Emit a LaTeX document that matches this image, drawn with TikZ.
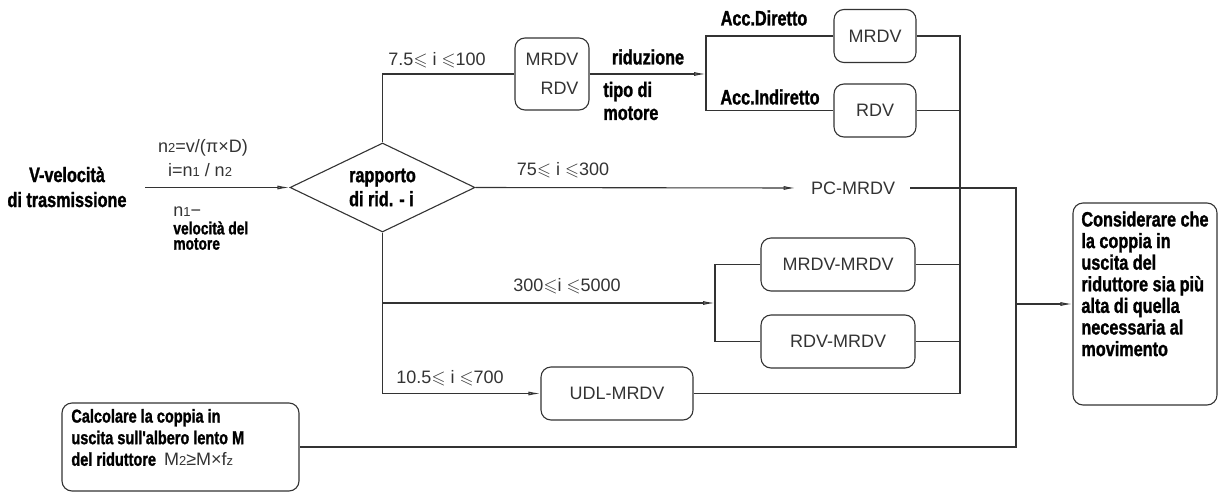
\documentclass[tikz,border=0pt]{standalone}
\usepackage{fontspec}
\usepackage{amssymb}
\setmainfont{Liberation Sans}
\newfontfamily\imp[FakeStretch=0.78,FakeBold=1.3]{Liberation Sans}
\usetikzlibrary{shapes.geometric,arrows.meta}
\newcommand\lsub[1]{{\fontsize{6.5pt}{6.5pt}\selectfont #1}}
\newcommand\myleq{$\leqslant$}
\begin{document}
\begin{tikzpicture}[x=0.5pt,y=-0.5pt,
 line/.style={draw=black!80, line width=0.55pt},
 arr/.style={line, -{Latex[length=6pt,width=2pt,fill=black!35]}},
 rbox/.style={draw=black!80, line width=0.55pt, rounded corners=5pt, inner sep=0pt, font=\fontsize{9pt}{10pt}\selectfont, text=black!80},
 bt/.style={font=\imp\bfseries\fontsize{10.4pt}{10.8pt}\selectfont, inner sep=0pt},
 rt/.style={font=\fontsize{9pt}{10pt}\selectfont, text=black!80, inner sep=0pt}]
\useasboundingbox (0,0) rectangle (1218,492);

% input
\node[bt, align=center, font=\imp\bfseries\fontsize{10.4pt}{12.5pt}\selectfont] (vel) at (67,187) {V-velocità\\di trasmissione};
\node[draw=black!80, line width=0.55pt, diamond, aspect=2, minimum width=92.5pt, minimum height=44.5pt, inner sep=0pt,
      align=left, font=\imp\bfseries\fontsize{10.4pt}{12pt}\selectfont] (dec) at (382.5,187.5) {rapporto\\di rid. - i};
\coordinate (in) at (145,187.5);
\draw[arr] (in) -- (dec.west);
\node[rt] (l1) at (203,148) {n\lsub{2}=v/(π×D)};
\node[rt] (l2) at (200,170) {i=n\lsub{1} / n\lsub{2}};
\node[rt, anchor=west] (l3) at (173,212) {n\lsub{1}−};
\node[bt, anchor=west, font=\imp\bfseries\fontsize{8.8pt}{9pt}\selectfont] (l4) at (173,228) {velocità del};
\node[bt, anchor=west, font=\imp\bfseries\fontsize{8.8pt}{9pt}\selectfont] (l5) at (173,244) {motore};

% top branch
\node[rbox, minimum width=37pt, minimum height=36pt, align=right, font=\fontsize{9pt}{14.5pt}\selectfont] (b1) at (552,74) {MRDV\\RDV};
\coordinate (tl) at (dec.north |- b1.west);
\draw[line] (dec.north) -- (tl) -- (b1.west);
\node[rt] (t1) at (437,60) {7.5\myleq\ i \myleq100};
\coordinate (br1) at (706,74);
\draw[arr] (b1.east) -- (br1);
\node[bt] (t2) at (648,57) {riduzione};
\node[bt, anchor=west, align=left, font=\imp\bfseries\fontsize{10.4pt}{11.5pt}\selectfont] (t3) at (603,101) {tipo di\\motore};
\node[rbox, minimum width=41pt, minimum height=26.5pt] (m1) at (875,36) {MRDV};
\node[rbox, minimum width=41pt, minimum height=26.5pt] (r1) at (875,110.5) {RDV};
\draw[line] (m1.west) -| (br1) |- (r1.west);
\node[bt] (t4) at (764,18) {Acc.Diretto};
\node[bt] (t5) at (770,97) {Acc.Indiretto};

% middle branch
\node[rt, inner xsep=7.5pt] (pc) at (853,188) {PC-MRDV};
\draw[arr] (dec.east) -- (pc.west);
\node[rt] (t6) at (563,170) {75\myleq\ i \myleq300};

% bottom branches
\node[rbox, minimum width=77pt, minimum height=26.5pt] (mm) at (838,264.5) {MRDV-MRDV};
\node[rbox, minimum width=77pt, minimum height=26.5pt] (rm) at (838,341.5) {RDV-MRDV};
\node[rbox, minimum width=76pt, minimum height=26.5pt] (udl) at (617,393.5) {UDL-MRDV};
\coordinate (bl) at (dec.south |- udl.west);
\coordinate (bm) at (dec.south |- 0,303);
\coordinate (br2) at (715,303);
\draw[line] (dec.south) -- (bl);
\draw[arr] (bl) -- (udl.west);
\draw[arr] (bm) -- (br2);
\draw[line] (mm.west) -| (br2) |- (rm.west);
\node[rt] (t7) at (567,286) {300\myleq i \myleq5000};
\node[rt] (t8) at (450,378) {10.5\myleq\ i \myleq700};

% collecting bus
\coordinate (jt) at (960,36);
\coordinate (jb) at (960,393.5);
\draw[line] (m1.east) -- (jt) -- (jb) -- (udl.east);
\draw[line] (r1.east) -- (r1.east -| jt);
\draw[line] (mm.east) -- (mm.east -| jt);
\draw[line] (rm.east) -- (rm.east -| jt);

% calc box
\node[rbox, minimum width=118.5pt, minimum height=44pt] (calc) at (180.5,447) {};
\node[bt, anchor=west, align=left, font=\imp\bfseries\fontsize{9.3pt}{10.8pt}\selectfont] (calctxt) at (71,437.5)
  {Calcolare la coppia in\\uscita sull'albero lento M\\del riduttore\ \ {\normalfont\mdseries\fontsize{9pt}{10pt}\selectfont\color{black!80}M\lsub{2}≥M×f\lsub{z}}};

% final box
\node[rbox, minimum width=72pt, minimum height=101pt] (fin) at (1145,304) {};
\node[bt, anchor=north west, align=left] (fintxt) at (1081,211)
  {Considerare che\\la coppia in\\uscita del\\riduttore sia più\\alta di quella\\necessaria al\\movimento};

\coordinate (jr) at (1016,188);
\coordinate (jm) at (jr |- fin.west);
\coordinate (jl) at (jr |- calc.east);
\draw[line] (pc.east) -- (jr) -- (jl) -- (calc.east);
\draw[arr] (jm) -- (fin.west);
\end{tikzpicture}
\end{document}
